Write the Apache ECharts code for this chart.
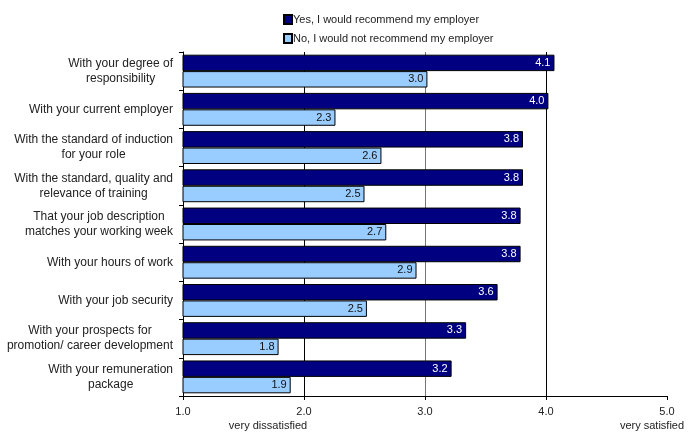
<!DOCTYPE html>
<html>
<head>
<meta charset="utf-8">
<script src="https://cdn.jsdelivr.net/npm/echarts@6/dist/echarts.min.js"></script>
<style>
  html, body { margin: 0; padding: 0; background: #fff; }
  #main { width: 695px; height: 433px; }
</style>
</head>
<body>
<div id="main"></div>
<script>
// categories, top to bottom
var categories = [
  'With your degree of\nresponsibility',
  'With your current employer',
  'With the standard of induction\nfor your role',
  'With the standard, quality and\nrelevance of training',
  'That your job description\nmatches your working week',
  'With your hours of work',
  'With your job security',
  'With your prospects for\npromotion/ career development',
  'With your remuneration\npackage'
]
var yesValues = [4.07, 4.02, 3.81, 3.81, 3.79, 3.79, 3.60, 3.34, 3.22]
var noValues = [3.02, 2.26, 2.64, 2.50, 2.68, 2.93, 2.52, 1.79, 1.89]
var seriesNames = ['Yes, I would recommend my employer', 'No, I would not recommend my employer']
var tickNotes = { 2: 'very dissatisfied', 5: 'very satisfied' }

var font = 'Liberation Sans'
var myChart = echarts.init(document.getElementById('main'))

var option = {
  animation: false,
  textStyle: { fontFamily: font },
  legend: {
    orient: 'vertical',
    left: 278,
    top: 9,
    itemWidth: 8,
    itemHeight: 9,
    itemGap: 8,
    icon: 'rect',
    textStyle: { fontSize: 11, color: '#222', fontFamily: font, padding: [0, 0, 0, -4] },
    data: seriesNames
  },
  grid: { left: 183, right: 28, top: 52, bottom: 37, outerBoundsMode: 'none', containLabel: false },
  xAxis: {
    type: 'value',
    min: 1,
    max: 5,
    interval: 1,
    axisLine: { show: true, lineStyle: { color: '#000', width: 1 } },
    axisTick: { show: true, length: 4, lineStyle: { color: '#000' } },
    splitLine: {
      show: true,
      showMinLine: false,
      showMaxLine: false,
      lineStyle: { color: ['#000', '#777', '#000'], width: 1 }
    },
    axisLabel: {
      margin: 9,
      fontSize: 11,
      color: '#222',
      lineHeight: 14,
      formatter: function (v) {
        var s = v.toFixed(1)
        if (v === 2) s += '\n{d|' + tickNotes[2] + '}'
        if (v === 5) s += '\n{s|' + tickNotes[5] + '}'
        return s
      },
      rich: {
        d: { fontSize: 11, color: '#222', fontFamily: font, padding: [0, 72, 0, 0] },
        s: { fontSize: 11, color: '#222', fontFamily: font, padding: [0, 30, 0, 0] }
      }
    }
  },
  yAxis: {
    type: 'category',
    inverse: true,
    data: categories,
    axisLine: { show: true, lineStyle: { color: '#000', width: 1 } },
    axisTick: { show: true, length: 4, lineStyle: { color: '#000' } },
    axisLabel: {
      margin: 10,
      fontSize: 12,
      color: '#222',
      formatter: function (v) {
        return v.split('\n').map(function (l) { return '{c|' + l + '}' }).join('\n')
      },
      rich: {
        c: { align: 'center', fontSize: 12, lineHeight: 15, color: '#222', fontFamily: font }
      }
    }
  },
  series: [
    {
      name: seriesNames[0],
      type: 'bar',
      barGap: 0,
      barCategoryGap: '14%',
      data: yesValues,
      itemStyle: { color: '#000080', borderColor: '#000', borderWidth: 1 },
      label: {
        show: true,
        position: 'insideRight',
        distance: 4,
        fontSize: 11,
        color: '#fff',
        formatter: function (p) { return p.value.toFixed(1) }
      }
    },
    {
      name: seriesNames[1],
      type: 'bar',
      data: noValues,
      itemStyle: { color: '#99ccff', borderColor: '#000', borderWidth: 1 },
      label: {
        show: true,
        position: 'insideRight',
        distance: 4,
        fontSize: 11,
        color: '#111',
        formatter: function (p) { return p.value.toFixed(1) }
      }
    }
  ]
}

myChart.setOption(option)
</script>
</body>
</html>
